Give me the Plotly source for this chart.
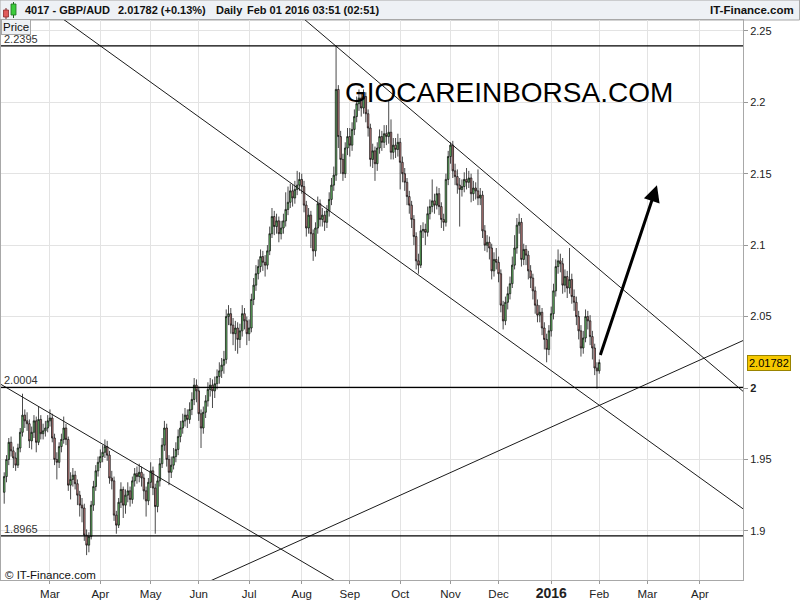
import pandas as pd
import plotly.graph_objects as go

# ---------------- data ----------------
dates = pd.bdate_range("2015-02-02", "2016-02-01")   # daily candles, weekdays
first_open = 1.927

close = [
    1.938, 1.950, 1.962, 1.956, 1.951,
    1.946, 1.958, 1.969, 1.981, 1.977,
    1.975, 1.963, 1.969, 1.977, 1.962,
    1.978, 1.968, 1.970, 1.972, 1.977,
    1.979, 1.965, 1.950, 1.948, 1.959,
    1.964, 1.972, 1.964, 1.932, 1.936,
    1.939, 1.933, 1.925, 1.918, 1.916,
    1.897, 1.890, 1.896, 1.918, 1.931,
    1.942, 1.948, 1.952, 1.955, 1.959,
    1.953, 1.937, 1.935, 1.911, 1.904,
    1.920, 1.929, 1.918, 1.925, 1.928,
    1.922, 1.935, 1.940, 1.938, 1.941,
    1.937, 1.928, 1.921, 1.934, 1.942,
    1.930, 1.917, 1.935, 1.947, 1.960,
    1.972, 1.950, 1.941, 1.946, 1.952,
    1.957, 1.966, 1.972, 1.977, 1.981,
    1.978, 1.985, 1.992, 2.002, 1.998,
    1.982, 1.972, 1.983, 1.991, 1.999,
    2.002, 1.998, 2.003, 2.008, 2.012,
    2.016, 2.020, 2.050, 2.052, 2.044,
    2.038, 2.042, 2.034, 2.040, 2.052,
    2.047, 2.038, 2.042, 2.062, 2.072,
    2.080, 2.085, 2.092, 2.088, 2.086,
    2.096, 2.108, 2.120, 2.113, 2.117,
    2.108, 2.112, 2.117, 2.125, 2.130,
    2.138, 2.133, 2.139, 2.142, 2.146,
    2.141, 2.128, 2.112, 2.121, 2.108,
    2.096, 2.112, 2.129, 2.118, 2.121,
    2.116, 2.124, 2.132, 2.142, 2.149,
    2.209, 2.176, 2.160, 2.150, 2.168,
    2.176, 2.170, 2.181, 2.190, 2.199,
    2.203, 2.196, 2.204, 2.192, 2.182,
    2.160, 2.166, 2.157, 2.168, 2.176,
    2.172, 2.178, 2.176, 2.179, 2.165,
    2.170, 2.167, 2.172, 2.158, 2.150,
    2.144, 2.134, 2.128, 2.118, 2.106,
    2.089, 2.086, 2.110, 2.111, 2.109,
    2.122, 2.127, 2.131, 2.128, 2.136,
    2.127, 2.118, 2.116, 2.146, 2.162,
    2.170, 2.152, 2.148, 2.142, 2.139,
    2.141, 2.146, 2.144, 2.147, 2.136,
    2.140, 2.138, 2.133, 2.135, 2.110,
    2.100, 2.102, 2.098, 2.082, 2.090,
    2.088, 2.080, 2.058, 2.047, 2.060,
    2.066, 2.073, 2.086, 2.098, 2.114,
    2.116, 2.090, 2.097, 2.093, 2.082,
    2.077, 2.068, 2.058, 2.051, 2.053,
    2.042, 2.034, 2.027, 2.040, 2.052,
    2.068, 2.085, 2.089, 2.087, 2.072,
    2.078, 2.070, 2.076, 2.064, 2.060,
    2.050, 2.040, 2.028, 2.035, 2.050,
    2.047, 2.036, 2.028, 2.014, 2.012,
    2.01782,
]

high = [
    1.941, 1.953, 1.965, 1.966, 1.959,
    1.955, 1.961, 1.972, 1.996, 1.985,
    1.983, 1.978, 1.973, 1.981, 1.980,
    1.987, 1.981, 1.975, 1.977, 1.981,
    1.985, 1.982, 1.968, 1.955, 1.962,
    1.968, 1.980, 1.975, 1.966, 1.941,
    1.944, 1.942, 1.936, 1.928, 1.923,
    1.919, 1.901, 1.899, 1.921, 1.935,
    1.946, 1.952, 1.957, 1.960, 1.964,
    1.963, 1.956, 1.942, 1.938, 1.914,
    1.923, 1.934, 1.931, 1.929, 1.934,
    1.931, 1.938, 1.944, 1.945, 1.947,
    1.945, 1.940, 1.931, 1.937, 1.948,
    1.945, 1.933, 1.938, 1.951, 1.965,
    1.977, 1.975, 1.953, 1.952, 1.958,
    1.962, 1.971, 1.977, 1.982, 1.986,
    1.985, 1.990, 1.997, 2.007, 2.006,
    2.001, 1.985, 1.987, 1.995, 2.004,
    2.007, 2.006, 2.008, 2.013, 2.018,
    2.021, 2.026, 2.055, 2.058, 2.056,
    2.049, 2.047, 2.046, 2.045, 2.058,
    2.056, 2.050, 2.048, 2.066, 2.077,
    2.086, 2.090, 2.097, 2.096, 2.093,
    2.100, 2.113, 2.126, 2.124, 2.122,
    2.120, 2.117, 2.122, 2.137, 2.141,
    2.143, 2.142, 2.145, 2.152, 2.151,
    2.150, 2.145, 2.131, 2.126, 2.124,
    2.111, 2.116, 2.134, 2.132, 2.126,
    2.124, 2.128, 2.137, 2.147, 2.155,
    2.2395, 2.212, 2.180, 2.164, 2.172,
    2.182, 2.182, 2.186, 2.195, 2.204,
    2.209, 2.207, 2.209, 2.207, 2.195,
    2.185, 2.171, 2.169, 2.172, 2.181,
    2.180, 2.184, 2.184, 2.201, 2.188,
    2.175, 2.175, 2.178, 2.175, 2.162,
    2.154, 2.147, 2.138, 2.131, 2.121,
    2.109, 2.094, 2.114, 2.116, 2.115,
    2.127, 2.132, 2.146, 2.136, 2.141,
    2.140, 2.130, 2.122, 2.150, 2.166,
    2.172, 2.173, 2.157, 2.153, 2.147,
    2.146, 2.151, 2.154, 2.152, 2.150,
    2.145, 2.144, 2.153, 2.140, 2.138,
    2.114, 2.107, 2.106, 2.101, 2.095,
    2.098, 2.092, 2.083, 2.061, 2.064,
    2.071, 2.078, 2.092, 2.107, 2.119,
    2.122, 2.119, 2.101, 2.100, 2.096,
    2.086, 2.080, 2.071, 2.062, 2.058,
    2.056, 2.046, 2.038, 2.044, 2.057,
    2.073, 2.090, 2.097, 2.094, 2.091,
    2.083, 2.082, 2.098, 2.080, 2.069,
    2.064, 2.054, 2.044, 2.040, 2.055,
    2.054, 2.051, 2.040, 2.031, 2.018,
    2.020,
]

low = [
    1.919, 1.934, 1.946, 1.952, 1.944,
    1.942, 1.944, 1.955, 1.966, 1.972,
    1.970, 1.958, 1.957, 1.965, 1.955,
    1.960, 1.964, 1.964, 1.966, 1.969,
    1.973, 1.962, 1.946, 1.936, 1.944,
    1.955, 1.961, 1.960, 1.928, 1.922,
    1.931, 1.929, 1.918, 1.910, 1.906,
    1.893, 1.883, 1.885, 1.894, 1.914,
    1.928, 1.938, 1.944, 1.948, 1.951,
    1.949, 1.933, 1.929, 1.907, 1.898,
    1.902, 1.916, 1.909, 1.912, 1.920,
    1.917, 1.919, 1.931, 1.933, 1.934,
    1.931, 1.922, 1.910, 1.918, 1.930,
    1.925, 1.898, 1.913, 1.931, 1.944,
    1.956, 1.945, 1.932, 1.937, 1.943,
    1.948, 1.953, 1.962, 1.968, 1.973,
    1.972, 1.975, 1.981, 1.988, 1.990,
    1.977, 1.958, 1.968, 1.979, 1.987,
    1.994, 1.986, 1.993, 1.999, 2.003,
    2.007, 2.010, 2.017, 2.044, 2.038,
    2.030, 2.026, 2.024, 2.028, 2.036,
    2.041, 2.030, 2.033, 2.039, 2.058,
    2.068, 2.076, 2.081, 2.082, 2.078,
    2.083, 2.093, 2.105, 2.107, 2.108,
    2.102, 2.104, 2.108, 2.113, 2.121,
    2.126, 2.127, 2.129, 2.135, 2.138,
    2.136, 2.123, 2.106, 2.108, 2.098,
    2.089, 2.092, 2.108, 2.113, 2.113,
    2.110, 2.112, 2.120, 2.128, 2.138,
    2.145, 2.168, 2.150, 2.145, 2.147,
    2.163, 2.162, 2.166, 2.177, 2.186,
    2.194, 2.190, 2.192, 2.186, 2.176,
    2.155, 2.154, 2.145, 2.152, 2.164,
    2.166, 2.168, 2.170, 2.171, 2.160,
    2.160, 2.161, 2.162, 2.139, 2.144,
    2.138, 2.128, 2.122, 2.112, 2.100,
    2.083, 2.080, 2.084, 2.105, 2.100,
    2.106, 2.118, 2.123, 2.122, 2.125,
    2.121, 2.112, 2.110, 2.113, 2.142,
    2.157, 2.147, 2.142, 2.136, 2.113,
    2.134, 2.137, 2.139, 2.140, 2.130,
    2.131, 2.132, 2.128, 2.128, 2.105,
    2.096, 2.095, 2.090, 2.076, 2.078,
    2.083, 2.074, 2.053, 2.041, 2.044,
    2.055, 2.062, 2.070, 2.083, 2.094,
    2.108, 2.085, 2.086, 2.086, 2.076,
    2.070, 2.062, 2.052, 2.046, 2.046,
    2.037, 2.027, 2.018, 2.023, 2.036,
    2.048, 2.064, 2.080, 2.081, 2.066,
    2.067, 2.063, 2.066, 2.059, 2.054,
    2.044, 2.034, 2.022, 2.024, 2.032,
    2.041, 2.030, 2.020, 2.009, 1.9996,
    2.010,
]

open_ = [first_open] + close[:-1]   # FX daily: open = previous close

# horizontal levels and their labels
levels = [2.2395, 2.0004, 1.8965]
level_labels = ["2.2395", "2.0004", "1.8965"]

# hand-drawn trend lines (date, price endpoints)
line_a_x = ["2015-01-19", "2016-05-02"]; line_a_y = [2.3018, 1.9106]
line_b_x = ["2015-06-22", "2016-05-02"]; line_b_y = [2.3004, 1.9920]
line_c_x = ["2015-01-19", "2015-09-14"]; line_c_y = [2.0125, 1.8504]
line_d_x = ["2015-05-25", "2016-05-09"]; line_d_y = [1.8577, 2.0413]

# projection arrow
arrow_from = ("2016-02-01 06:00", 2.022)
arrow_to = ("2016-03-07 05:00", 2.142)

last_price = 2.01782

x_tickvals = ["2015-03-02", "2015-04-01", "2015-05-01", "2015-06-01", "2015-07-01",
              "2015-08-03", "2015-09-01", "2015-10-01", "2015-11-02", "2015-12-01",
              "2016-01-01", "2016-02-01", "2016-03-01", "2016-04-01"]
x_ticktext = ["Mar", "Apr", "May", "Jun", "Jul", "Aug", "Sep", "Oct", "Nov", "Dec",
              "<b><span style='font-size:14px'>2016</span></b>", "Feb", "Mar", "Apr"]
y_tickvals = [1.9, 1.95, 2.0, 2.05, 2.1, 2.15, 2.2, 2.25]
y_ticktext = ["1.9", "1.95", "<b>2</b>", "2.05", "2.1", "2.15", "2.2", "2.25"]

# ---------------- figure ----------------
W, H = 800, 600
ML, MR, MT, MB = 1, 57, 20, 20
PW, PH = W - ML - MR, H - MT - MB


def px_x(px):
    return (px - ML) / PW


def px_y(py):
    return (H - py - MB) / PH


FONT = "Liberation Sans, Arial, sans-serif"

fig = go.Figure()

fig.add_trace(go.Candlestick(
    x=dates, open=open_, high=high, low=low, close=close,
    increasing=dict(fillcolor="#6fcc6f", line=dict(color="#0d0d0d", width=0.75)),
    decreasing=dict(fillcolor="#d68f8f", line=dict(color="#0d0d0d", width=0.75)),
    whiskerwidth=0, showlegend=False, hoverinfo="skip",
))

for lx, ly in [(line_a_x, line_a_y), (line_b_x, line_b_y),
               (line_c_x, line_c_y), (line_d_x, line_d_y)]:
    fig.add_trace(go.Scatter(x=lx, y=ly, mode="lines",
                             line=dict(color="#1a1a1a", width=1),
                             showlegend=False, hoverinfo="skip"))

shapes = []
for lv in levels:
    shapes.append(dict(type="line", xref="paper", x0=0, x1=1, yref="y", y0=lv, y1=lv,
                       line=dict(color="#000000", width=1.2), layer="above"))
# header bar
shapes.append(dict(type="rect", xref="paper", yref="paper",
                   x0=px_x(0), x1=px_x(799.5), y0=px_y(20), y1=px_y(0),
                   fillcolor="#eef1f5", line=dict(color="#a8a8a8", width=1), layer="below"))
# candle icon in header
shapes.append(dict(type="line", xref="paper", yref="paper", x0=px_x(6), x1=px_x(6),
                   y0=px_y(19), y1=px_y(8), line=dict(color="#7a2020", width=1)))
shapes.append(dict(type="rect", xref="paper", yref="paper", x0=px_x(3.5), x1=px_x(8.5),
                   y0=px_y(17), y1=px_y(10), fillcolor="#e05a5a",
                   line=dict(color="#8a2a2a", width=0.8)))
shapes.append(dict(type="line", xref="paper", yref="paper", x0=px_x(13.5), x1=px_x(13.5),
                   y0=px_y(18), y1=px_y(2), line=dict(color="#206020", width=1)))
shapes.append(dict(type="rect", xref="paper", yref="paper", x0=px_x(11), x1=px_x(16),
                   y0=px_y(15), y1=px_y(4), fillcolor="#3ccc3c",
                   line=dict(color="#207020", width=0.8)))

annotations = []
for lv, lt in zip(levels, level_labels):
    annotations.append(dict(xref="paper", yref="y", x=px_x(3), y=lv, text=lt,
                            xanchor="left", yanchor="bottom", showarrow=False,
                            font=dict(family=FONT, size=11, color="#333333"),
                            borderpad=0))

hdr_y = px_y(10.5)
for txt, xp in [("4017 - GBP/AUD", 23), ("2.01782 (+0.13%)", 116),
                ("Daily", 214), ("Feb 01 2016 03:51 (02:51)", 245)]:
    annotations.append(dict(xref="paper", yref="paper", x=px_x(xp), y=hdr_y,
                            text="<b>" + txt + "</b>", xanchor="left", yanchor="middle",
                            showarrow=False, font=dict(family=FONT, size=11, color="#111111")))
annotations.append(dict(xref="paper", yref="paper", x=px_x(796), y=hdr_y,
                        text="<b>IT-Finance.com</b>", xanchor="right", yanchor="middle",
                        showarrow=False, font=dict(family=FONT, size=11.5, color="#111111")))

annotations.append(dict(xref="paper", yref="paper", x=px_x(1), y=px_y(27.5), text="Price",
                        xanchor="left", yanchor="middle", showarrow=False,
                        bgcolor="#eef1f5", bordercolor="#a8a8a8", borderwidth=1, borderpad=1,
                        font=dict(family=FONT, size=11.5, color="#111111")))

annotations.append(dict(xref="paper", yref="paper", x=px_x(3), y=px_y(575),
                        text="© IT-Finance.com", xanchor="left", yanchor="middle",
                        showarrow=False, font=dict(family=FONT, size=11.5, color="#111111")))

annotations.append(dict(xref="paper", yref="paper", x=px_x(509), y=px_y(93),
                        text="GIOCAREINBORSA.COM", xanchor="center", yanchor="middle",
                        showarrow=False, font=dict(family=FONT, size=28, color="#000000")))

annotations.append(dict(xref="paper", yref="y", x=px_x(747), y=last_price,
                        text="2.01782", xanchor="left", yanchor="middle", showarrow=False,
                        bgcolor="#f6c800", bordercolor="#9a8400", borderwidth=1, borderpad=1,
                        font=dict(family=FONT, size=11, color="#000000")))

annotations.append(dict(xref="x", yref="y", x=arrow_to[0], y=arrow_to[1],
                        axref="x", ayref="y", ax=arrow_from[0], ay=arrow_from[1],
                        text="", showarrow=True, arrowhead=2, arrowsize=1.1,
                        arrowwidth=3, arrowcolor="#000000"))

fig.update_layout(
    width=W, height=H,
    margin=dict(l=ML, r=MR, t=MT, b=MB, pad=0, autoexpand=False),
    paper_bgcolor="#ffffff", plot_bgcolor="#ffffff",
    font=dict(family=FONT, size=11, color="#222222"),
    showlegend=False, boxgap=0.05,
    shapes=shapes, annotations=annotations,
)

fig.update_xaxes(
    type="date", range=["2015-01-29 14:24", "2016-04-27 19:12"],
    rangebreaks=[dict(bounds=["sat", "mon"])],
    rangeslider=dict(visible=False),
    tickmode="array", tickvals=x_tickvals, ticktext=x_ticktext,
    ticks="outside", ticklen=3, tickcolor="#999999",
    showgrid=True, gridcolor="#e3e3e3", gridwidth=1,
    showline=True, linecolor="#a8a8a8", linewidth=1, mirror=True,
    tickfont=dict(family="Liberation Sans Narrow, Liberation Sans, Arial", size=11.5, color="#222222"),
    zeroline=False, fixedrange=True, automargin=False,
)
fig.update_yaxes(
    range=[1.8656, 2.2576], side="right",
    tickmode="array", tickvals=y_tickvals, ticktext=y_ticktext,
    ticks="outside", ticklen=4, tickcolor="#999999",
    showgrid=True, gridcolor="#e3e3e3", gridwidth=1,
    showline=True, linecolor="#a8a8a8", linewidth=1, mirror=True,
    tickfont=dict(family=FONT, size=11, color="#222222"),
    zeroline=False, fixedrange=True, automargin=False,
)

fig.write_html("out.html", config={"displayModeBar": False},
               post_script="document.body.style.margin='0px';document.body.style.overflow='hidden';")
